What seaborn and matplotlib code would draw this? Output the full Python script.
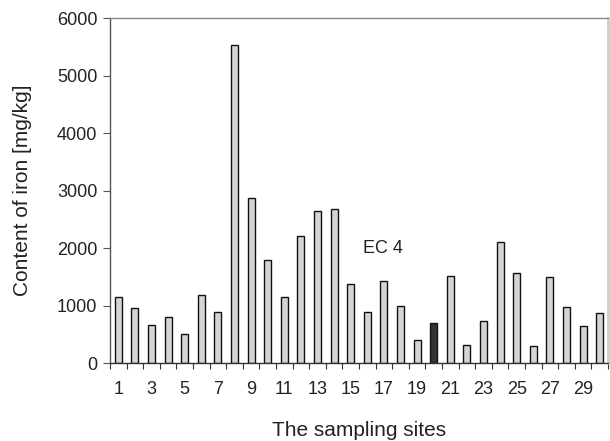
import matplotlib
matplotlib.use("Agg")
import matplotlib.pyplot as plt
import seaborn as sns
import pandas as pd
import numpy as np
from matplotlib.ticker import FixedLocator

sites = [str(i) for i in range(1, 31)]
iron = [1160, 960, 665, 812, 510, 1195, 887, 5530, 2870, 1803,
        1160, 2220, 2643, 2678, 1383, 887, 1426, 1003, 412, 696,
        1513, 319, 730, 2104, 1571, 296, 1496, 980, 643, 870]
highlight_site = "20"
annotation = "EC 4"

sns.set_theme(style="white")
plt.rcParams['font.family'] = ['Liberation Sans', 'DejaVu Sans']

df = pd.DataFrame({"site": sites, "iron": iron})
palette = {s: ("#333333" if s == highlight_site else "#d4d4d4") for s in sites}

fig = plt.figure(figsize=(6.10, 4.41), dpi=100)
ax = fig.add_axes([0.1803, 0.1762, 0.8164, 0.7828])
sns.barplot(data=df, x="site", y="iron", hue="site", palette=palette,
            order=sites, legend=False, width=0.42, edgecolor="#111111",
            linewidth=1.0, saturation=1, ax=ax)

ax.set_xlim(-0.5, len(sites) - 0.5)
ax.set_ylim(0, 6000)
ax.set_yticks(np.arange(0, 6001, 1000))
ax.set_xticks(range(0, len(sites), 2))
ax.set_xticklabels(sites[::2])
ax.xaxis.set_minor_locator(FixedLocator(np.arange(-0.5, len(sites), 1.0)))
ax.tick_params(axis="x", which="major", length=0, labelsize=13, pad=12.5, colors="#222222")
ax.tick_params(axis="x", which="minor", length=4, width=0.8, direction="out", color="#333333", bottom=True)
ax.tick_params(axis="y", which="major", length=5, width=0.8, direction="out", left=True,
               labelsize=13, pad=4, colors="#555555", labelcolor="#222222")

ax.set_xlabel("The sampling sites", fontsize=15, labelpad=17, color="#222222")
ax.set_ylabel("Content of iron [mg/kg]", fontsize=15, labelpad=18, color="#222222")

ax.text(14.74, 2000, annotation, fontsize=13, ha="left", va="center", color="#222222")

for side, sp in ax.spines.items():
    sp.set_visible(True)
ax.spines["left"].set_color("#555555")
ax.spines["left"].set_linewidth(1.0)
ax.spines["bottom"].set_color("#333333")
ax.spines["bottom"].set_linewidth(1.0)
ax.spines["top"].set_color("#8a8a8a")
ax.spines["top"].set_linewidth(1.0)
ax.spines["right"].set_color("#cccccc")
ax.spines["right"].set_linewidth(2.0)

fig.savefig("out.png", dpi=100)
